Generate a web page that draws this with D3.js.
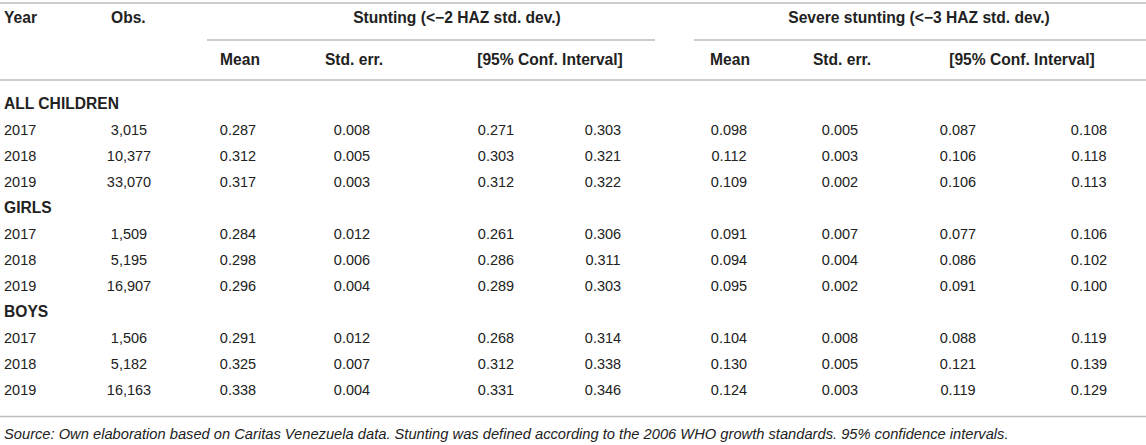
<!DOCTYPE html>
<html>
<head>
<meta charset="utf-8">
<script src="https://cdn.jsdelivr.net/npm/d3@7"></script>
<style>
  body { margin: 0; background: #fff; }
  svg text { font-family: "Liberation Sans", Arial, sans-serif; fill: #222; }
</style>
</head>
<body>
<div id="container"></div>
<script>
var width = 1146, height = 445;

// table values
var groups = ['ALL CHILDREN', 'GIRLS', 'BOYS'];
var years = ['2017', '2018', '2019'];
var obs = [['3,015', '10,377', '33,070'], ['1,509', '5,195', '16,907'], ['1,506', '5,182', '16,163']];
var stMean = [['0.287', '0.312', '0.317'], ['0.284', '0.298', '0.296'], ['0.291', '0.325', '0.338']];
var stErr = [['0.008', '0.005', '0.003'], ['0.012', '0.006', '0.004'], ['0.012', '0.007', '0.004']];
var stLow = [['0.271', '0.303', '0.312'], ['0.261', '0.286', '0.289'], ['0.268', '0.312', '0.331']];
var stHigh = [['0.303', '0.321', '0.322'], ['0.306', '0.311', '0.303'], ['0.314', '0.338', '0.346']];
var svMean = [['0.098', '0.112', '0.109'], ['0.091', '0.094', '0.095'], ['0.104', '0.130', '0.124']];
var svErr = [['0.005', '0.003', '0.002'], ['0.007', '0.004', '0.002'], ['0.008', '0.005', '0.003']];
var svLow = [['0.087', '0.106', '0.106'], ['0.077', '0.086', '0.091'], ['0.088', '0.121', '0.119']];
var svHigh = [['0.108', '0.118', '0.113'], ['0.106', '0.102', '0.100'], ['0.119', '0.139', '0.129']];

var groupHeaders = ['Stunting (<−2 HAZ std. dev.)', 'Severe stunting (<−3 HAZ std. dev.)'];
var subHeaders = ['Mean', 'Std. err.', '[95% Conf. Interval]'];
var note = 'Source: Own elaboration based on Caritas Venezuela data. Stunting was defined according to the 2006 WHO growth standards. 95% confidence intervals.';

// columns: values, x position, anchor
var columns = [
  {vals: null, x: 4, anchor: 'start'},          // year
  {vals: obs, x: 129, anchor: 'middle'},
  {vals: stMean, x: 238, anchor: 'middle'},
  {vals: stErr, x: 352, anchor: 'middle'},
  {vals: stLow, x: 496, anchor: 'middle'},
  {vals: stHigh, x: 603, anchor: 'middle'},
  {vals: svMean, x: 729, anchor: 'middle'},
  {vals: svErr, x: 840, anchor: 'middle'},
  {vals: svLow, x: 958, anchor: 'middle'},
  {vals: svHigh, x: 1089, anchor: 'middle'}
];

// rows: one label row per group plus one per year
var rows = [];
groups.forEach(function(g, gi) {
  rows.push({type: 'group', label: g});
  years.forEach(function(y, yi) {
    rows.push({type: 'data', label: y, g: gi, y: yi});
  });
});

var y = d3.scaleBand()
  .domain(d3.range(rows.length))
  .range([91, 403]);

var svg = d3.select('#container').append('svg')
  .attr('width', width)
  .attr('height', height);

var lineColor = '#bdbdbd';

function hline(x1, x2, yy) {
  svg.append('line')
    .attr('x1', x1).attr('x2', x2)
    .attr('y1', yy).attr('y2', yy)
    .attr('stroke', lineColor)
    .attr('stroke-width', 1.5);
}

hline(0, width, 3);
hline(207, 655, 40);
hline(694, width, 40);
hline(0, width, 80);
hline(0, width, 416.5);

// header
var head = svg.append('g').attr('font-weight', 'bold').attr('font-size', '15.6px');
head.append('text').attr('x', 4).attr('y', 22.5).text('Year');
head.append('text').attr('x', 111).attr('y', 22.5).text('Obs.');

head.selectAll('text.grp')
  .data(groupHeaders)
  .join('text')
  .attr('class', 'grp')
  .attr('x', function(d, i) { return i === 0 ? 457 : 919; })
  .attr('y', 22.5)
  .attr('text-anchor', 'middle')
  .text(function(d) { return d; });

var subX = [[240, 354, 550], [730, 842, 1022]];
subX.forEach(function(xs) {
  head.selectAll(null)
    .data(subHeaders)
    .join('text')
    .attr('x', function(d, i) { return xs[i]; })
    .attr('y', 64.5)
    .attr('text-anchor', 'middle')
    .text(function(d) { return d; });
});

// body
var body = svg.append('g').attr('font-size', '14.5px');
var rowG = body.selectAll('g.row')
  .data(rows)
  .join('g')
  .attr('class', 'row')
  .attr('transform', function(d, i) { return 'translate(0,' + (y(i) + y.bandwidth() / 2 + 5.3) + ')'; });

rowG.filter(function(d) { return d.type === 'group'; })
  .append('text')
  .attr('x', 4)
  .attr('font-weight', 'bold')
  .attr('font-size', '15.6px')
  .text(function(d) { return d.label; });

rowG.filter(function(d) { return d.type === 'data'; })
  .selectAll('text')
  .data(function(r) {
    return columns.map(function(c) {
      return {x: c.x, anchor: c.anchor, text: c.vals ? c.vals[r.g][r.y] : r.label};
    });
  })
  .join('text')
  .attr('x', function(d) { return d.x; })
  .attr('text-anchor', function(d) { return d.anchor; })
  .text(function(d) { return d.text; });

svg.append('text')
  .attr('x', 4)
  .attr('y', 439)
  .attr('font-size', '14.7px')
  .attr('font-style', 'italic')
  .text(note);
</script>
</body>
</html>
